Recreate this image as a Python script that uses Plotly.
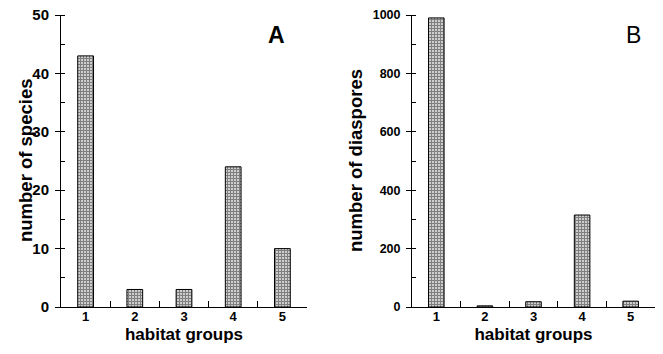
import plotly.graph_objects as go

groups = ["1", "2", "3", "4", "5"]
species = [43, 3, 3, 24, 10]
diaspores = [990, 4, 18, 315, 20]

FONT = "Arial, 'Liberation Sans', Helvetica, sans-serif"

W, H = 663, 354


def px_x(p):
    return p / W


def px_y(p):
    return 1 - p / H


fig = go.Figure()


def bar(y, xa, ya):
    return go.Bar(
        x=groups, y=y, xaxis=xa, yaxis=ya, width=0.32,
        marker=dict(color="white",
                    line=dict(color="black", width=1),
                    pattern=dict(shape="+", size=3, solidity=0.7,
                                 fgcolor="black", bgcolor="white")),
        showlegend=False, hoverinfo="skip",
    )


fig.add_trace(bar(species, "x", "y"))
fig.add_trace(bar(diaspores, "x2", "y2"))

ydom = [px_y(307), px_y(15)]

xcommon = dict(type="category", tickson="boundaries", ticks="inside", ticklen=6,
               tickcolor="black", showline=True, linecolor="black", linewidth=1,
               showgrid=False, zeroline=False, automargin=False,
               ticklabelstandoff=-3,
               tickfont=dict(family=FONT, size=13, weight="bold", color="black"),
               range=[-0.5, 4.5])
ycommon = dict(ticks="outside", ticklen=5, tickcolor="black", showline=True,
               linecolor="black", linewidth=1, showgrid=False, zeroline=False,
               automargin=False, domain=ydom, ticklabeloverflow="allow")

tfont = dict(family=FONT, size=17, weight="bold", color="black")
yfont = dict(family=FONT, size=18.5, weight="bold", color="black")


def ann(text, x, y, font, angle=0):
    return dict(text=text, x=px_x(x), y=px_y(y), xref="paper", yref="paper",
                xanchor="center", yanchor="middle", textangle=angle,
                showarrow=False, font=font)


fig.update_layout(
    width=W, height=H,
    margin=dict(l=0, r=0, t=0, b=0),
    paper_bgcolor="white", plot_bgcolor="white",
    xaxis=dict(**xcommon, domain=[px_x(61), px_x(307)], anchor="y",
               title=dict(text="habitat groups", standoff=5, font=tfont)),
    xaxis2=dict(**xcommon, domain=[px_x(412), px_x(655)], anchor="y2",
                title=dict(text="habitat groups", standoff=5, font=tfont)),
    yaxis=dict(**ycommon, anchor="x", range=[0, 50], tick0=0, dtick=10,
               ticklabelstandoff=3,
               tickfont=dict(family=FONT, size=15, weight="bold", color="black"),
               minor=dict(ticks="inside", ticklen=4, dtick=5, tick0=5, tickcolor="black")),
    yaxis2=dict(**ycommon, anchor="x2", range=[0, 1000], tick0=0, dtick=200,
                ticklabelstandoff=3,
                tickfont=dict(family=FONT, size=12.5, weight="bold", color="black"),
                minor=dict(ticks="inside", ticklen=4, dtick=100, tick0=100, tickcolor="black")),
    annotations=[
        ann("number of species", 25, 161, yfont, -90),
        ann("number of diaspores", 355, 161, yfont, -90),
        ann("A", 276, 35, dict(family=FONT, size=23, weight="bold", color="black")),
        ann("B", 633, 35, dict(family=FONT, size=23, color="black")),
    ],
)

fig.write_html("out.html", config={"displayModeBar": False},
               post_script="document.body.style.margin='0';document.body.style.overflow='hidden';")
